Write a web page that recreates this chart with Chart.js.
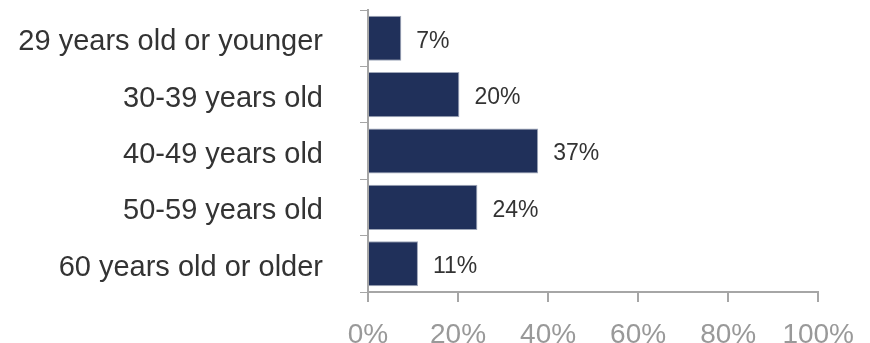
<!DOCTYPE html>
<html lang="en">
<head>
  <meta charset="UTF-8" />
  <title>Age groups</title>
  <script src="https://cdn.jsdelivr.net/npm/chart.js"></script>
  <style>
    body {
      margin: 0;
      background: #fff;
    }
    .chart-container {
      width: 870px;
      height: 343px;
    }
  </style>
</head>
<body>
  <div class="chart-container">
    <canvas id="ageChart"></canvas>
  </div>

  <script>
    const categories = [
      '29 years old or younger',
      '30-39 years old',
      '40-49 years old',
      '50-59 years old',
      '60 years old or older'
    ];
    const shares = [7.4, 20.3, 37.8, 24.3, 11.1];
    const shareLabels = ['7%', '20%', '37%', '24%', '11%'];
    const xTicks = [0, 20, 40, 60, 80, 100];

    const axisGray = '#a6a6a6';

    // writes the percentage to the right of every bar
    const valueLabels = {
      id: 'valueLabels',
      afterDatasetsDraw(chart) {
        const ctx = chart.ctx;
        const meta = chart.getDatasetMeta(0);
        ctx.save();
        ctx.font = '23px "Liberation Sans", Arial, sans-serif';
        ctx.fillStyle = '#333';
        ctx.textAlign = 'left';
        ctx.textBaseline = 'middle';
        meta.data.forEach((bar, i) => {
          ctx.fillText(shareLabels[i], bar.x + 15, bar.y + 3);
        });
        ctx.restore();
      }
    };

    new Chart(document.getElementById('ageChart'), {
      type: 'bar',
      data: {
        labels: categories,
        datasets: [{
          data: shares,
          backgroundColor: '#20305a',
          borderColor: '#9ea6b8',
          borderWidth: 1,
          barPercentage: 0.8,
          categoryPercentage: 1
        }]
      },
      options: {
        indexAxis: 'y',
        responsive: true,
        maintainAspectRatio: false,
        animation: false,
        layout: { padding: { top: 10, right: 51, left: 0, bottom: 0 } },
        plugins: {
          legend: { display: false },
          tooltip: { enabled: false }
        },
        scales: {
          y: {
            afterFit(scale) {
              scale.width = 368;
              scale.paddingTop = 0;
              scale.paddingBottom = 0;
            },
            grid: {
              offset: true,
              drawOnChartArea: false,
              tickLength: 8,
              color: axisGray
            },
            border: { color: axisGray, width: 2 },
            ticks: {
              padding: 37,
              labelOffset: 4,
              color: '#333',
              font: { family: '"Liberation Sans", Arial, sans-serif', size: 29 }
            }
          },
          x: {
            min: 0,
            max: 100,
            afterFit(scale) { scale.height = 51; },
            afterBuildTicks(scale) { scale.ticks = xTicks.map(v => ({ value: v })); },
            grid: {
              drawOnChartArea: false,
              tickLength: 10,
              color: axisGray,
              lineWidth: 2
            },
            border: { color: axisGray, width: 2 },
            ticks: {
              padding: 16,
              color: '#999',
              font: { family: '"Liberation Sans", Arial, sans-serif', size: 28 },
              callback: v => v + '%'
            }
          }
        }
      },
      plugins: [valueLabels]
    });
  </script>
</body>
</html>
